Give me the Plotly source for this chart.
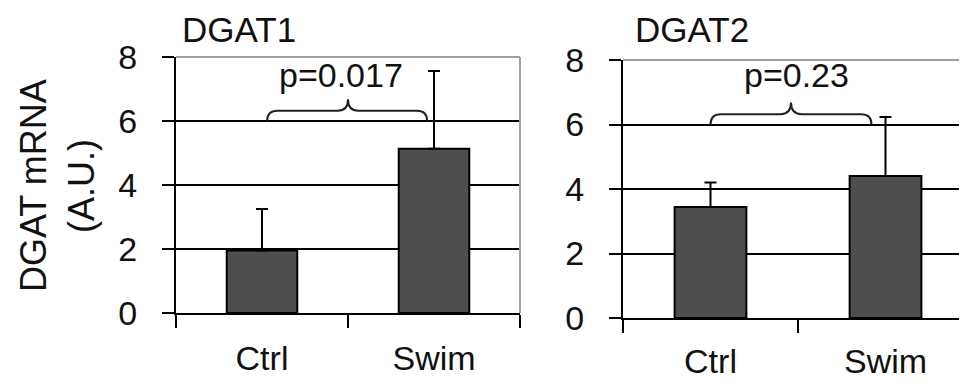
import plotly.graph_objects as go

categories = ["Ctrl", "Swim"]
dgat1_mean = [1.95, 5.13]
dgat1_err = [1.3, 2.43]
dgat2_mean = [3.44, 4.40]
dgat2_err = [0.76, 1.83]
y_ticks = [0, 2, 4, 6, 8]
panel_titles = ["DGAT1", "DGAT2"]
p_texts = ["p=0.017", "p=0.23"]
y_title_lines = ["DGAT mRNA", "(A.U.)"]

FONT = "Liberation Sans, Arial, sans-serif"
BAR = "#4e4e4e"

fig = go.Figure()

panels = [
    dict(mean=dgat1_mean, err=dgat1_err, xa="x", ya="y",
         xdom=[168 / 967, 512 / 967], ydom=[(386 - 305) / 386, (386 - 49) / 386],
         brace=(0.03, 0.5, 0.96), title_x=231 / 967, p_x=333 / 967, standoff=14),
    dict(mean=dgat2_mean, err=dgat2_err, xa="x2", ya="y2",
         xdom=[615 / 967, 965 / 967], ydom=[(386 - 310) / 386, (386 - 52) / 386],
         brace=(0.0, 0.46, 0.92), title_x=684 / 967, p_x=788 / 967, standoff=12),
]

for i, p in enumerate(panels):
    fig.add_trace(go.Bar(
        x=categories, y=p["mean"], xaxis=p["xa"], yaxis=p["ya"],
        marker=dict(color=BAR, line=dict(color="black", width=2)),
        error_y=dict(type="data", array=p["err"], symmetric=False,
                     arrayminus=[0] * len(p["err"]), color="black",
                     thickness=2, width=6),
        showlegend=False,
    ))

axis_common_x = dict(type="category", range=[-0.5, 1.5], showline=True,
                     linecolor="black", linewidth=2, ticks="outside",
                     tickson="boundaries", ticklen=13, tickwidth=2,
                     tickcolor="black", showgrid=False, zeroline=False,
                     automargin=False, fixedrange=True,
                     tickfont=dict(family=FONT, size=34, color="#111"))
axis_common_y = dict(range=[0, 8], tickvals=y_ticks, showline=True,
                     linecolor="black", linewidth=2, ticks="outside",
                     ticklen=12, tickwidth=2, tickcolor="black",
                     showgrid=True, gridcolor="black", gridwidth=2,
                     zeroline=False, automargin=False, fixedrange=True,
                     tickfont=dict(family=FONT, size=34, color="#111"),
                     ticklabelstandoff=18)

fig.update_layout(
    xaxis=dict(domain=panels[0]["xdom"], anchor="y",
               ticklabelstandoff=panels[0]["standoff"], **axis_common_x),
    yaxis=dict(domain=panels[0]["ydom"], anchor="x", **axis_common_y),
    xaxis2=dict(domain=panels[1]["xdom"], anchor="y2",
                ticklabelstandoff=panels[1]["standoff"], **axis_common_x),
    yaxis2=dict(domain=panels[1]["ydom"], anchor="x2", **axis_common_y),
)

shapes = []
annotations = []
for i, p in enumerate(panels):
    xd = "x domain" if i == 0 else "x2 domain"
    yd = "y domain" if i == 0 else "y2 domain"
    # gray top and right frame
    shapes.append(dict(type="line", xref=xd, yref=yd, x0=0, x1=1, y0=1, y1=1,
                       line=dict(color="#a0a0a0", width=2)))
    shapes.append(dict(type="line", xref=xd, yref=yd, x0=1, x1=1, y0=0, y1=1,
                       line=dict(color="#a0a0a0", width=2)))
    # brace
    a, m, b = p["brace"]
    base, h, tip = 6.0, 6.32, 6.68
    dx = 0.06
    path = (f"M {a},{base} Q {a},{h} {a+dx},{h} L {m-dx},{h} "
            f"Q {m},{h} {m},{tip} Q {m},{h} {m+dx},{h} L {b-dx},{h} "
            f"Q {b},{h} {b},{base}")
    shapes.append(dict(type="path", xref=p["xa"], yref=p["ya"], path=path,
                       line=dict(color="#222", width=2)))
    annotations.append(dict(text=panel_titles[i], xref="paper", yref="paper",
                            x=p["title_x"], y=1.0, xanchor="center",
                            yanchor="top", showarrow=False,
                            font=dict(family=FONT, size=35, color="#111")))
    annotations.append(dict(text=p_texts[i], xref="paper", yref="paper",
                            x=p["p_x"], y=(386 - 67) / 386, xanchor="center",
                            yanchor="middle", showarrow=False,
                            font=dict(family=FONT, size=34, color="#111")))

for j, (line, xc) in enumerate(zip(y_title_lines, [25, 73])):
    annotations.append(dict(text=line, xref="paper", yref="paper",
                            x=xc / 967, y=(386 - 178) / 386, xanchor="center",
                            yanchor="middle", textangle=-90, showarrow=False,
                            font=dict(family=FONT, size=36, color="#111")))

fig.update_layout(
    width=967, height=386, margin=dict(l=0, r=0, t=0, b=0),
    paper_bgcolor="white", plot_bgcolor="white", bargap=0.59,
    shapes=shapes, annotations=annotations, template="none",
)

fig.write_html("out.html")
